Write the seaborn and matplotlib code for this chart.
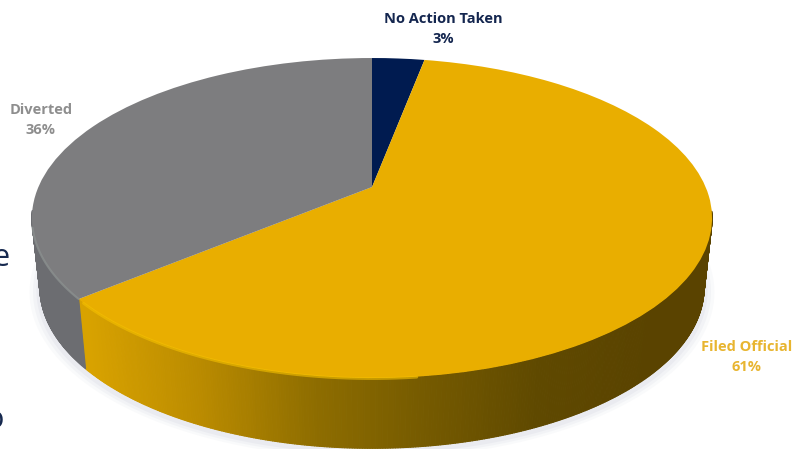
import matplotlib
matplotlib.use('Agg')
import matplotlib.pyplot as plt
import numpy as np
import seaborn as sns
from matplotlib.collections import PolyCollection
from matplotlib.transforms import Transform

# values, order is clockwise from 12 o'clock
labels = ['No Action Taken', 'Filed Official', 'Diverted']
shares = [3, 61, 36]
top_colors = ['#001b50', '#e9ae00', '#7d7d7f']
label_colors = ['#14264f', '#e8b530', '#8e8e8e']


class Disc(Transform):
    # tilted disc: the unit circle seen in perspective, so its centre sits above the middle of the ellipse
    input_dims = output_dims = 2

    def __init__(self, x0, y0, a, b, p):
        super().__init__()
        self.x0, self.y0, self.a, self.b, self.p = x0, y0, a, b, p

    def transform_non_affine(self, values):
        values = np.asarray(values)
        w = 1 + self.p * values[:, 1]
        return np.column_stack([self.x0 + self.a * values[:, 0] / w,
                                self.y0 - self.b * values[:, 1] / w])

    def transform_path_non_affine(self, path):
        return type(path)(self.transform_non_affine(path.vertices), path.codes)


top_disc = Disc(372, 187, 333.6, 154, 0.194)
base_disc = Disc(372, 256, 325.8, 155, 0.194)

sns.set_theme(style='white')
plt.rcParams['font.family'] = ['Open Sans', 'DejaVu Sans']

fig = plt.figure(figsize=(7.94, 4.49), dpi=100)
ax = fig.add_axes([0, 0, 1, 1])

wedges, _ = ax.pie(shares, colors=top_colors, startangle=90, counterclock=False, radius=1)
ax.set_aspect('auto')
ax.set_xlim(0, 794)
ax.set_ylim(449, 0)
ax.axis('off')
for w in wedges:
    w.set_transform(top_disc + ax.transData)
    w.set_zorder(5)
    w.set_linewidth(0)

# soft shadow under the base
t = np.linspace(0, 2 * np.pi, 200)
ring = np.column_stack([np.sin(t), np.cos(t)])
for grow, alpha in [(1.03, 0.05), (1.02, 0.07), (1.01, 0.09)]:
    pts = base_disc.transform_non_affine(ring * grow)
    ax.fill(pts[:, 0], pts[:, 1] + 3, color='#9aa0b8', alpha=alpha, lw=0, zorder=1)

# side wall, one narrow quad per step round the rim, front part only
side_cmap = sns.blend_palette(['#d8a200', '#ba8b00', '#8e6d00', '#755a00', '#5f4900', '#5a4300'], as_cmap=True)
edges = np.cumsum([0] + shares) / 100 * 2 * np.pi
quads, quad_colors = [], []
for i in range(len(shares)):
    steps = np.linspace(edges[i], edges[i + 1], max(int(shares[i] * 10), 2))
    rim = np.column_stack([np.sin(steps), np.cos(steps)])
    upper = top_disc.transform_non_affine(rim)
    lower = base_disc.transform_non_affine(rim)
    for j in range(len(steps) - 1):
        if rim[j, 1] > -0.15:
            continue
        quads.append([upper[j], upper[j + 1], lower[j + 1], lower[j]])
        mid = (upper[j, 0] + upper[j + 1, 0]) / 2
        if labels[i] == 'Filed Official':
            quad_colors.append(side_cmap((mid - 85) / 570))
        elif labels[i] == 'Diverted':
            quad_colors.append('#6c6d71')
        else:
            quad_colors.append('#00123a')
ax.add_collection(PolyCollection(quads, facecolors=quad_colors, edgecolors=quad_colors, linewidths=0.8, zorder=2))

# thin bevel on the front of the rim
steps = np.linspace(edges[1], edges[2], 160)
rim = top_disc.transform_non_affine(np.column_stack([np.sin(steps), np.cos(steps)]))
front = (rim[:, 0] < 420) & (rim[:, 1] > 300)
ax.plot(rim[front, 0], rim[front, 1] + 0.5, color='#f5c000', lw=2, alpha=0.6, zorder=6)
steps = np.linspace(edges[2], edges[3], 120)
rim = top_disc.transform_non_affine(np.column_stack([np.sin(steps), np.cos(steps)]))
front = rim[:, 1] > 225
ax.plot(rim[front, 0], rim[front, 1], color='#8b908f', lw=1.5, alpha=0.8, zorder=6)

label_xy = [(443, 29), (747, 357), (41, 120)]
for name, share, col, (x, y) in zip(labels, shares, label_colors, label_xy):
    ax.text(x, y, f'{name}\n{share}%', color=col, fontsize=10.5, fontweight='bold',
            ha='center', va='center', linespacing=1.6, zorder=7)

# pieces of the slide text cut off by the crop
ax.text(372, 3, 'INITIAL DECISION OF COURT REFERRALS', color='#0b2a6b', fontsize=17, fontweight='bold',
        ha='center', va='bottom', alpha=0.3)
ax.text(-8, 266, 'e', color='#16294f', fontsize=22, ha='left', va='baseline')
ax.text(-15, 428, 'o', color='#16294f', fontsize=22, ha='left', va='baseline')

fig.savefig('out.png', dpi=100)
